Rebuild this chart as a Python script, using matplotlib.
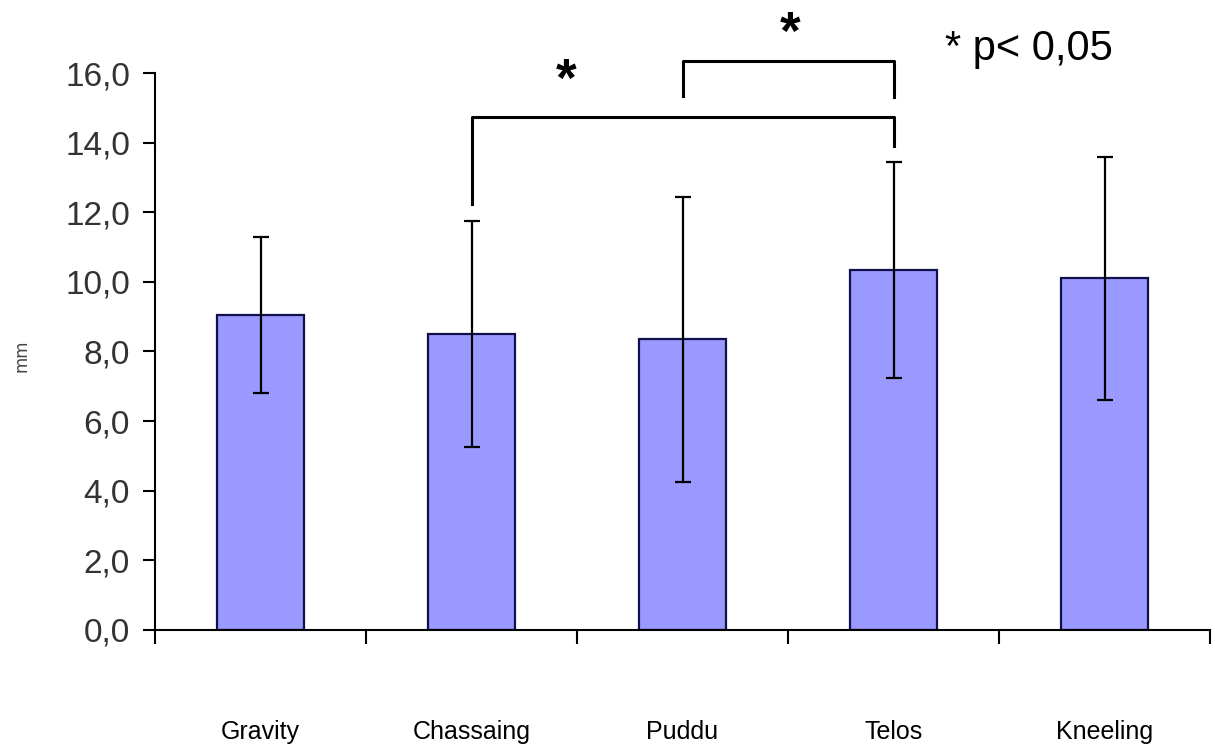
import matplotlib.pyplot as plt
import numpy as np

categories = ["Gravity", "Chassaing", "Puddu", "Telos", "Kneeling"]
means = [9.05, 8.5, 8.35, 10.35, 10.1]
errors = [2.25, 3.25, 4.1, 3.1, 3.5]
y_ticks = [0, 2, 4, 6, 8, 10, 12, 14, 16]
y_tick_labels = ["0,0", "2,0", "4,0", "6,0", "8,0", "10,0", "12,0", "14,0", "16,0"]

fig = plt.figure(figsize=(12.15, 7.45), dpi=100)
ax = fig.add_axes([0.1276, 0.1544, 0.8683, 0.7476])

x = np.arange(len(categories))
ax.bar(x, means, width=0.41, color="#9999ff", edgecolor="#10104a", linewidth=1.6, zorder=2)
ax.errorbar(x, means, yerr=errors, fmt="none", ecolor="black", elinewidth=1.6,
            capsize=6, capthick=1.6, zorder=3)

ax.set_xlim(-0.5, len(categories) - 0.5)
ax.set_ylim(0, 16)
for side in ("top", "right"):
    ax.spines[side].set_visible(False)
for side in ("left", "bottom"):
    ax.spines[side].set_linewidth(1.5)

ax.set_yticks(y_ticks)
ax.set_yticklabels(y_tick_labels, fontsize=24, color="#333333", family="Liberation Sans")
ax.tick_params(axis="y", direction="out", length=9, width=1.5, pad=9)

# boundary ticks below the axis, names centred much lower down
ax.set_xticks(np.arange(len(categories) + 1) - 0.5)
ax.set_xticklabels([])
ax.tick_params(axis="x", which="major", direction="out", length=10, width=1.5)
ax.set_xticks(x, minor=True)
ax.set_xticklabels(categories, minor=True, fontsize=18, family="Liberation Sans")
ax.tick_params(axis="x", which="minor", length=0, pad=65)

fig.text(0.018, 0.523, "mm", rotation=90, fontsize=12, color="#444444",
         ha="center", va="center")

# significance brackets
def bracket(x0, x1, y0, y1, top):
    ax.plot([x0, x0, x1, x1], [y0, top, top, y1], color="black", lw=2.2,
            clip_on=False, zorder=4)

bracket(1, 3, 12.25, 13.9, 14.75)
bracket(2, 3, 15.35, 15.3, 16.35)
ax.text(1.45, 15.75, "*", fontsize=38, fontweight="bold", ha="center", va="center",
        family="Liberation Sans", clip_on=False)
ax.text(2.51, 17.1, "*", fontsize=38, fontweight="bold", ha="center", va="center",
        family="Liberation Sans", clip_on=False)

fig.text(0.778, 0.919, "* p< 0,05", fontsize=30, ha="left", va="baseline",
         family="Liberation Sans")

fig.savefig("out.png", dpi=100)
